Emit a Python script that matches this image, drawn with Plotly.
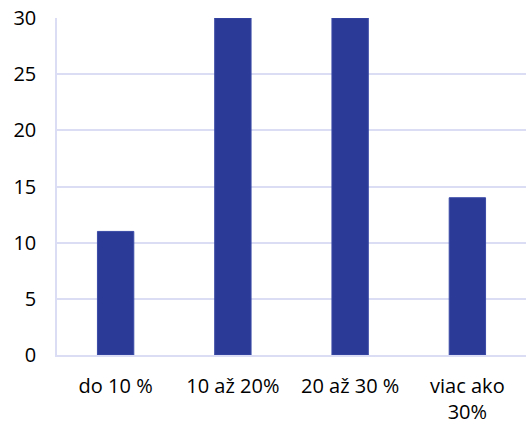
import plotly.graph_objects as go

categories = ["do 10 %", "10 až 20%", "20 až 30 %", "viac ako<br>30%"]
values = [11, 30, 30, 14]
y_ticks = [0, 5, 10, 15, 20, 25, 30]

fig = go.Figure(go.Bar(
    x=categories, y=values,
    marker=dict(color="#2B3A96", line=dict(color="#3A4AA6", width=1)),
    width=0.31,
    hoverinfo="skip",
))

font = dict(family="Open Sans", size=20, color="#000000")
fig.update_layout(
    width=526, height=425,
    margin=dict(l=57, r=0, t=18, b=70),
    plot_bgcolor="white", paper_bgcolor="white",
    showlegend=False,
    font=font,
)
fig.update_yaxes(
    range=[0, 30], tickvals=y_ticks, showgrid=True, gridcolor="#DADDF3", gridwidth=1.5,
    showline=True, linecolor="#DADDF3", linewidth=1.5, zeroline=False,
    ticklabelstandoff=15, tickfont=font, automargin=False, ticklabeloverflow="allow",
)
fig.update_xaxes(
    showline=True, linecolor="#DADDF3", linewidth=1.5, tickfont=font,
    ticklabelstandoff=12, automargin=False, ticklabeloverflow="allow",
)
fig.write_html("out.html", config={"displayModeBar": False},
               post_script="document.body.style.margin='0';")
